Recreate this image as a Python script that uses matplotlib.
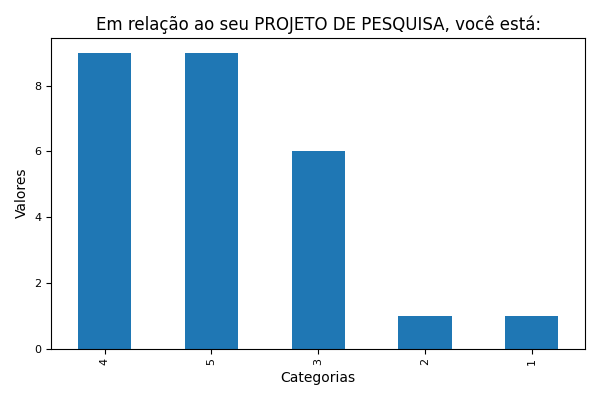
import matplotlib
matplotlib.use('Agg')
from matplotlib import pyplot as plt
import pandas as pd

# categories and counts
categorias = ['4', '5', '3', '2', '1']
valores = [9, 9, 6, 1, 1]

serie = pd.Series(valores, index=categorias)

fig, ax = plt.subplots(figsize=(6, 4), dpi=100)
serie.plot(kind='bar', ax=ax, color='#1f77b4')

ax.set_title('Em relação ao seu PROJETO DE PESQUISA, você está:', fontsize=12)
ax.set_xlabel('Categorias', fontsize=10)
ax.set_ylabel('Valores', fontsize=10)
ax.tick_params(axis='both', labelsize=8)

plt.tight_layout()
plt.savefig('out.png')
